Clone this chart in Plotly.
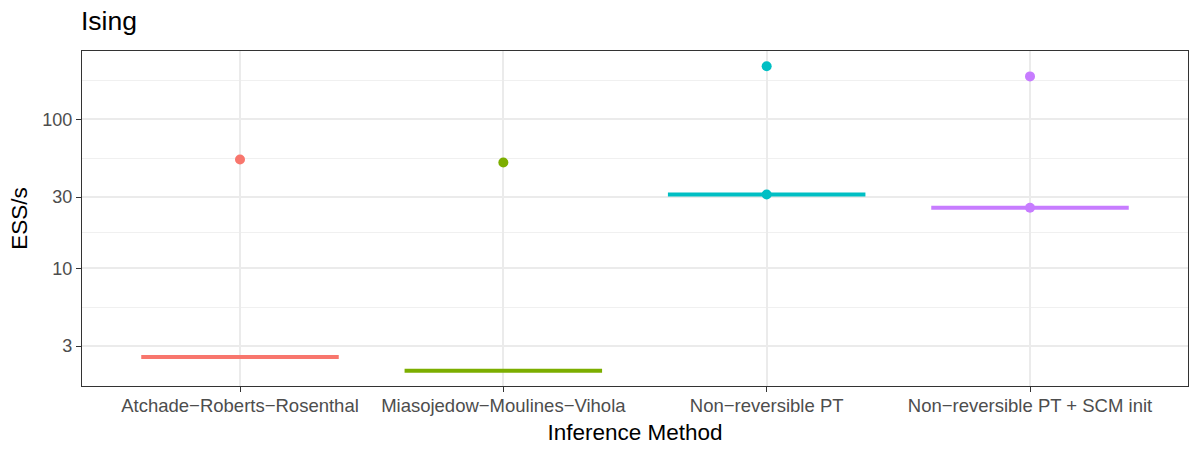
import math
import plotly.graph_objects as go

categories = ["Atchade\u2212Roberts\u2212Rosenthal", "Miasojedow\u2212Moulines\u2212Vihola",
              "Non\u2212reversible PT", "Non\u2212reversible PT + SCM init"]
medians = [2.54, 2.05, 31.3, 25.5]
outlier_cat = [0, 1, 2, 2, 3, 3]
outlier_val = [53.7, 51.3, 227.0, 31.3, 194.0, 25.5]
colors = ["#F8766D", "#7CAE00", "#00BFC4", "#C77CFF"]
y_ticks = [3, 10, 30, 100]
y_minor = [1.643, 5.477, 17.32, 54.77, 182.6]
box_width = 0.75

fig = go.Figure()
for i, (c, m, col) in enumerate(zip(categories, medians, colors)):
    x = i + 1
    fig.add_trace(go.Scatter(x=[x - box_width / 2, x + box_width / 2], y=[m, m],
                             mode="lines", line=dict(color=col, width=4),
                             showlegend=False, hoverinfo="skip"))
for ci, v in zip(outlier_cat, outlier_val):
    fig.add_trace(go.Scatter(x=[ci + 1], y=[v], mode="markers",
                             marker=dict(color=colors[ci], size=10),
                             showlegend=False))

lo = math.log10(min(medians + outlier_val))
hi = math.log10(max(medians + outlier_val))
pad = (hi - lo) * 0.05

fig.update_layout(
    width=1200, height=450,
    margin=dict(l=82, r=12, t=51, b=64),
    paper_bgcolor="white", plot_bgcolor="white",
    font=dict(family="Liberation Sans, Arial, sans-serif", color="black"),
    title=dict(text="Ising", x=81 / 1200, xanchor="left", y=1 - 21 / 450, yanchor="middle",
               font=dict(size=26.5, color="black")),
    xaxis=dict(
        range=[0.4, len(categories) + 0.6], tickmode="array",
        tickvals=list(range(1, len(categories) + 1)), ticktext=categories,
        showgrid=True, gridcolor="#EBEBEB", gridwidth=1.6, zeroline=False,
        ticks="outside", ticklen=5, tickcolor="#333333", tickwidth=1,
        tickfont=dict(size=18.5, color="#4D4D4D"), ticklabelstandoff=-2,
        showline=True, mirror=True, linecolor="#333333", linewidth=1.2,
        automargin=False,
        title=dict(text="Inference Method", font=dict(size=22.5), standoff=8),
    ),
    yaxis=dict(
        type="log", range=[lo - pad, hi + pad], tickmode="array",
        tickvals=y_ticks, ticktext=[str(t) for t in y_ticks],
        showgrid=True, gridcolor="#EBEBEB", gridwidth=1.6, zeroline=False,
        minor=dict(tickmode="array", tickvals=y_minor, showgrid=True,
                   gridcolor="#F0F0F0", gridwidth=0.9, ticks=""),
        ticks="outside", ticklen=5, tickcolor="#333333", tickwidth=1,
        tickfont=dict(size=18, color="#4D4D4D"),
        showline=True, mirror=True, linecolor="#333333", linewidth=1.2,
        automargin=False,
        title=dict(text="ESS/s", font=dict(size=22.5), standoff=8),
    ),
)

fig.write_html("out.html")
